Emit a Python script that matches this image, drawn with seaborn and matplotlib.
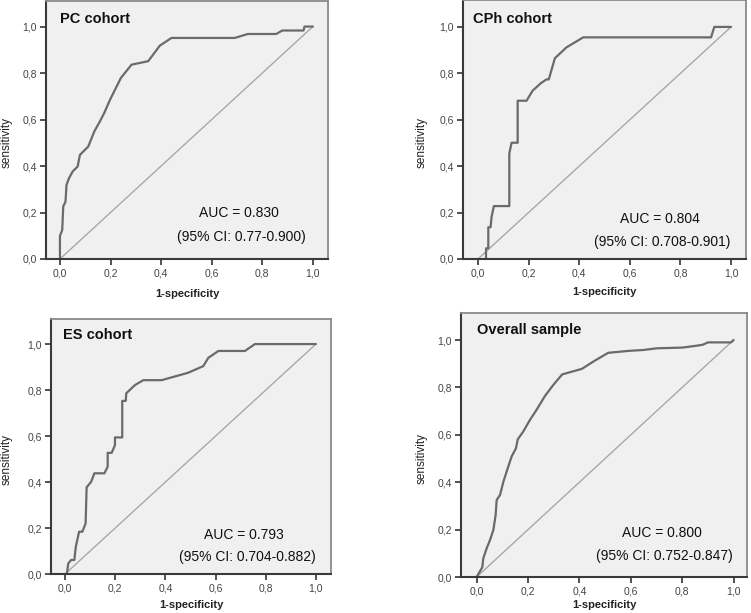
import matplotlib
matplotlib.use("Agg")
import matplotlib.pyplot as plt
import seaborn as sns
import pandas as pd
from matplotlib.ticker import FuncFormatter

# ---------------- data ----------------
titles = ["PC cohort", "CPh cohort", "ES cohort", "Overall sample"]
auc_texts = ["AUC = 0.830", "AUC = 0.804", "AUC = 0.793", "AUC = 0.800"]
ci_texts = ["(95% CI: 0.77-0.900)", "(95% CI: 0.708-0.901)",
            "(95% CI: 0.704-0.882)", "(95% CI: 0.752-0.847)"]

pc_fpr = [0.0, 0.0, 0.009, 0.013, 0.022, 0.026, 0.036, 0.050, 0.070, 0.079, 0.112,
          0.136, 0.158, 0.175, 0.198, 0.241, 0.283, 0.349, 0.395, 0.441, 0.691,
          0.743, 0.855, 0.879, 0.963, 0.967, 1.0]
pc_tpr = [0.0, 0.099, 0.125, 0.226, 0.247, 0.319, 0.348, 0.376, 0.398, 0.448, 0.484,
          0.549, 0.592, 0.628, 0.685, 0.779, 0.836, 0.851, 0.918, 0.951, 0.951,
          0.968, 0.968, 0.983, 0.983, 1.0, 1.0]

cph_fpr = [0.032, 0.032, 0.041, 0.041, 0.050, 0.054, 0.063, 0.124, 0.124, 0.133,
           0.157, 0.157, 0.192, 0.216, 0.248, 0.271, 0.280, 0.304, 0.350, 0.416,
           0.921, 0.934, 1.0]
cph_tpr = [0.0, 0.046, 0.046, 0.137, 0.137, 0.182, 0.228, 0.228, 0.455, 0.501,
           0.501, 0.682, 0.682, 0.725, 0.757, 0.774, 0.774, 0.865, 0.912, 0.955,
           0.955, 1.0, 1.0]

es_fpr = [0.007, 0.013, 0.024, 0.037, 0.043, 0.056, 0.069, 0.082, 0.086, 0.104,
          0.117, 0.157, 0.170, 0.170, 0.186, 0.199, 0.199, 0.228, 0.228, 0.242,
          0.244, 0.279, 0.312, 0.385, 0.490, 0.551, 0.571, 0.611, 0.717, 0.757, 1.0]
es_tpr = [0.0, 0.046, 0.061, 0.061, 0.119, 0.184, 0.184, 0.220, 0.377, 0.401,
          0.438, 0.438, 0.467, 0.527, 0.527, 0.561, 0.594, 0.594, 0.753, 0.753,
          0.786, 0.822, 0.843, 0.843, 0.875, 0.904, 0.940, 0.970, 0.970, 1.0, 1.0]

ov_fpr = [0.0, 0.022, 0.026, 0.039, 0.052, 0.065, 0.074, 0.078, 0.091, 0.104,
          0.121, 0.136, 0.153, 0.160, 0.181, 0.207, 0.233, 0.266, 0.298, 0.333,
          0.409, 0.460, 0.512, 0.590, 0.650, 0.700, 0.800, 0.850, 0.880, 0.900,
          0.990, 1.0]
ov_tpr = [0.0, 0.041, 0.079, 0.121, 0.156, 0.198, 0.262, 0.325, 0.346, 0.402,
          0.459, 0.508, 0.543, 0.581, 0.613, 0.662, 0.705, 0.764, 0.810, 0.855,
          0.878, 0.913, 0.946, 0.954, 0.958, 0.965, 0.968, 0.975, 0.980, 0.990,
          0.990, 1.0]

diag = [0.0, 1.0]
tick_vals = [0.0, 0.2, 0.4, 0.6, 0.8, 1.0]

curves = [(pc_fpr, pc_tpr), (cph_fpr, cph_tpr), (es_fpr, es_tpr), (ov_fpr, ov_tpr)]

# ---------------- layout ----------------
positions = [
    [0.0613, 0.5775, 0.3755, 0.4209],
    [0.6165, 0.5775, 0.3768, 0.4225],
    [0.0679, 0.0636, 0.3728, 0.4160],
    [0.6138, 0.0587, 0.3808, 0.4307],
]
xlims = [(-0.055, 1.06), (-0.059, 1.059), (-0.056, 1.06), (-0.061, 1.052)]
ylims = [(0, 1.11), (0, 1.116), (0, 1.109), (0, 1.114)]
title_x = [0.0, -0.02, -0.01, 0.0]
title_y = [1.034, 1.034, 1.04, 1.042]
auc_pos = [(0.708, 0.198), (0.72, 0.172), (0.713, 0.171), (0.721, 0.184)]
ci_pos = [(0.718, 0.095), (0.727, 0.073), (0.725, 0.075), (0.729, 0.089)]
xlab_y = [-0.116, -0.108, -0.102, -0.087]
ylab_x = [-0.12, -0.124, -0.136, -0.115]

sns.set_style("white")
plt.rcParams["font.family"] = ["Liberation Sans", "DejaVu Sans"]

fig = plt.figure(figsize=(7.51, 6.13), dpi=100)
fig.patch.set_facecolor("white")

fmt = FuncFormatter(lambda v, p: f"{v:.1f}".replace(".", ","))

for i in range(4):
    ax = fig.add_axes(positions[i])
    ax.set_facecolor("#f0f0f0")
    fpr, tpr = curves[i]
    sns.lineplot(x=diag, y=diag, ax=ax, color="#a8a8a8", lw=1.0,
                 sort=False, estimator=None)
    sns.lineplot(x=fpr, y=tpr, ax=ax, color="#6a6a6a", lw=1.6,
                 sort=False, estimator=None)
    ax.set_xlim(*xlims[i])
    ax.set_ylim(*ylims[i])
    ax.set_xticks(tick_vals)
    ax.set_yticks(tick_vals)
    ax.xaxis.set_major_formatter(fmt)
    ax.yaxis.set_major_formatter(fmt)
    ax.tick_params(axis="both", which="both", direction="out", length=4,
                   width=1.2, color="#333333", labelsize=7.5,
                   labelcolor="#444444", pad=2.5, bottom=True, left=True)
    for side in ["left", "bottom"]:
        ax.spines[side].set_color("#3a3a3a")
        ax.spines[side].set_linewidth(1.5)
    for side in ["top", "right"]:
        ax.spines[side].set_color("#8a8a8a")
        ax.spines[side].set_linewidth(1.3)
    ax.set_xlabel("1-specificity", fontsize=8, fontweight="bold", color="#222222")
    ax.set_ylabel("sensitivity", fontsize=8.5, color="#222222")
    ax.xaxis.set_label_coords(0.5, xlab_y[i])
    ax.yaxis.set_label_coords(ylab_x[i], 0.45)
    ax.text(title_x[i], title_y[i], titles[i], fontsize=10.5, fontweight="bold",
            ha="left", va="center", color="#111111")
    ax.text(auc_pos[i][0], auc_pos[i][1], auc_texts[i], fontsize=10,
            ha="center", va="center", color="#111111")
    ax.text(ci_pos[i][0], ci_pos[i][1], ci_texts[i], fontsize=10,
            ha="center", va="center", color="#111111")

fig.savefig("out.png", dpi=100)
